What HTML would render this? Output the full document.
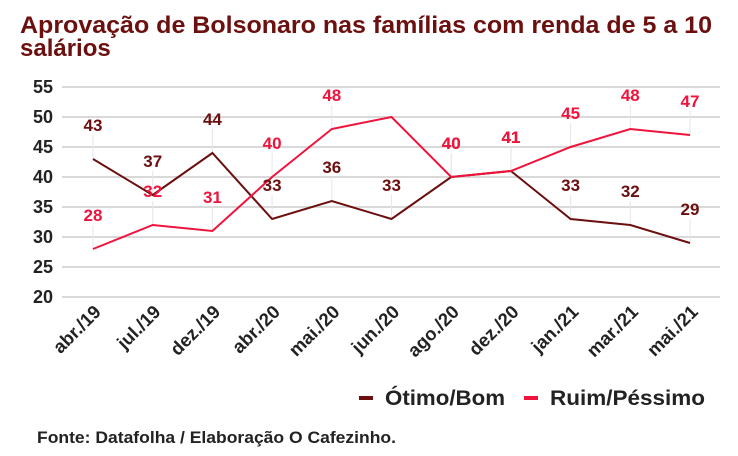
<!DOCTYPE html>
<html><head><meta charset="utf-8"><style>
body{margin:0;background:#fff;width:738px;height:451px;overflow:hidden;font-family:"Liberation Sans",sans-serif}
</style></head><body>
<svg width="738" height="451" xmlns="http://www.w3.org/2000/svg">
<text x="20" y="33" font-size="24" font-weight="bold" fill="#6b0f0f" textLength="692" lengthAdjust="spacingAndGlyphs">Aprovação de Bolsonaro nas famílias com renda de 5 a 10</text>
<text x="20" y="56" font-size="24" font-weight="bold" fill="#6b0f0f">salários</text>
<g id="grid"></g><g id="leaders"></g><g id="lines"></g><g id="labels"></g><g id="xt"></g>
<g>
<rect x="359" y="396" width="14" height="4" fill="#6b0f0f"/>
<text x="385" y="405" font-size="21" font-weight="bold" fill="#222" textLength="120" lengthAdjust="spacingAndGlyphs">Ótimo/Bom</text>
<rect x="524" y="396" width="14" height="4" fill="#f0143c"/>
<text x="550" y="405" font-size="21" font-weight="bold" fill="#222" textLength="155" lengthAdjust="spacingAndGlyphs">Ruim/Péssimo</text>
</g>
<text x="37" y="443" font-size="16.5" font-weight="bold" fill="#222" textLength="359" lengthAdjust="spacingAndGlyphs">Fonte: Datafolha / Elaboração O Cafezinho.</text>
</svg>
<script>
const categories=["abr./19","jul./19","dez./19","abr./20","mai./20","jun./20","ago./20","dez./20","jan./21","mar./21","mai./21"];
const otimoBom=[43,37,44,33,36,33,40,41,33,32,29];
const ruimPessimo=[28,32,31,40,48,50,40,41,45,48,47];
const ruimHiddenLabels=[5];
const yTicks=[20,25,30,35,40,45,50,55];
const NS="http://www.w3.org/2000/svg";
const y=v=>297-(v-20)*6;
const x=i=>93+i*59.7;
function mk(tag,attrs,parent,txt){const e=document.createElementNS(NS,tag);for(const k in attrs)e.setAttribute(k,attrs[k]);if(txt!==undefined)e.textContent=txt;document.getElementById(parent).appendChild(e);return e;}
yTicks.forEach(t=>{
 const l=mk('line',{x1:62,x2:720,y1:y(t),y2:y(t),stroke:'#d9d9d9','stroke-width':2},'grid');
 
 
 const tx=mk('text',{x:53,y:y(t)+6,'text-anchor':'end','font-size':18,'font-weight':'bold',fill:'#222'},'grid',t);
 
 
});
categories.forEach((c,i)=>{
 const t=mk('text',{transform:`translate(${x(i)+9},${313}) rotate(-45)`,'text-anchor':'end','font-size':18.5,'font-weight':'bold',fill:'#222'},'xt',c);
 
 
});
function series(vals,color,name,hidden){
 const p=mk('polyline',{points:vals.map((v,i)=>x(i)+','+y(v)).join(' '),fill:'none',stroke:color,'stroke-width':2},'lines');
 
 
 vals.forEach((v,i)=>{
  if(hidden.includes(i))return;
  const ly=y(v)-28;
  const ld=mk('line',{x1:x(i),x2:x(i),y1:y(v),y2:ly+4,stroke:'#e6e6e6','stroke-width':1},'leaders');
  
  
  const t=mk('text',{x:x(i),y:ly,'text-anchor':'middle','font-size':17,'font-weight':'bold',fill:color},'labels',v);
  
  
 });
}
series(otimoBom,'#6b0f0f','otimo-bom',[]);
series(ruimPessimo,'#f0143c','ruim-pessimo',ruimHiddenLabels);
</script>
</body></html>
